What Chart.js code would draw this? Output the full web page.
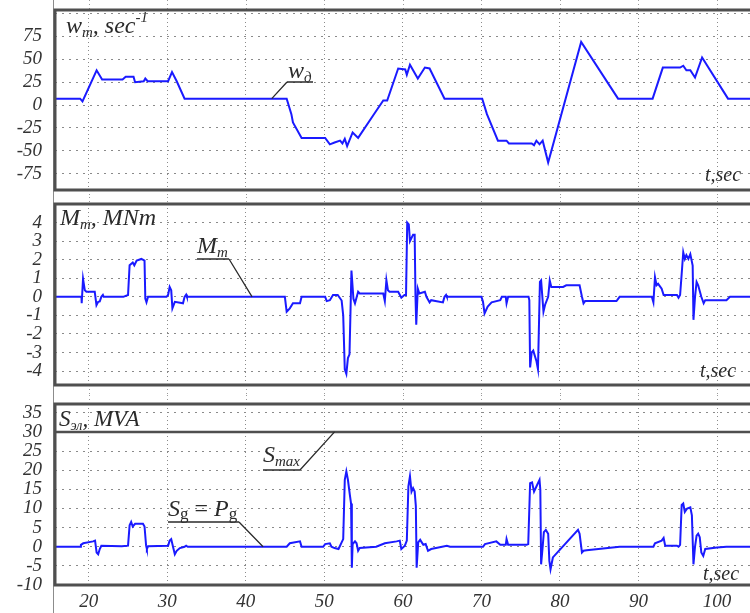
<!DOCTYPE html>
<html>
<head>
<meta charset="utf-8">
<script src="https://cdn.jsdelivr.net/npm/chart.js@4.4.0/dist/chart.umd.min.js"></script>
<style>
  html, body { margin: 0; padding: 0; background: #fff; }
  #wrap { position: relative; width: 750px; height: 613px; overflow: hidden; }
  canvas { position: absolute; left: 0; }
</style>
</head>
<body>
<div id="wrap">
  <canvas id="c1" width="750" height="197" style="top:0"></canvas>
  <canvas id="c2" width="750" height="198" style="top:197px"></canvas>
  <canvas id="c3" width="750" height="218" style="top:395px"></canvas>
</div>
<script>
// time axis (sec)
const tMin = 15.7;
const tMax = 104.2;
const tTicks = [20, 30, 40, 50, 60, 70, 80, 90, 100];

// speed w_m, sec^-1
const wTime = [15.7, 18.9, 19.2, 21.0, 21.7, 24.3, 24.7, 25.7, 25.9, 27.0, 27.2, 27.5, 30.1, 30.6, 31.2, 32.2,
  45.2, 45.8, 46.0, 47.1, 50.1, 50.7, 51.3, 52.0, 52.3, 52.6, 52.9, 53.6, 54.3, 56.4, 57.5, 58.0, 59.4, 60.3,
  60.5, 60.9, 61.9, 62.8, 63.4, 65.3, 70.1, 70.7, 72.1, 73.2, 73.5, 76.4, 76.7, 77.0, 77.4, 77.8, 78.5, 82.7,
  87.4, 91.8, 93.1, 95.3, 95.7, 96.1, 96.6, 97.2, 98.1, 101.4, 104.2];
const wValue = [7, 7, 4, 38, 28, 28, 31, 31, 25, 26, 29, 26, 26, 36, 26, 7,
  7, -10, -19, -36, -36, -43, -41, -39, -42, -37, -45, -30, -36, -9, 5, 5, 40, 39,
  33, 44, 29, 41, 40, 7, 7, -10, -39, -39, -42, -42, -44, -39, -43, -39, -63, 69,
  7, 7, 41, 41, 43, 38, 38, 30, 52, 7, 7];

// torque M_m, MNm
const mTime = [15.7, 19.07, 19.1, 19.27, 19.5, 19.7, 20.76, 20.98, 21.2, 21.4, 21.6, 21.8, 21.9, 24.4, 25.0, 25.2,
  25.6, 25.8, 26.1, 26.7, 27.1, 27.2, 27.35, 27.55, 29.9, 30.1, 30.3, 30.5, 30.65, 30.96, 32.0, 32.2, 32.4, 32.5,
  44.97, 45.2, 45.6, 46.0, 46.9, 47.1, 50.1, 50.3, 50.7, 51.1, 51.7, 52.2, 52.4, 52.6, 52.8, 53.0, 53.2, 53.45,
  53.7, 53.9, 54.3, 54.5, 57.5, 57.7, 57.9, 58.1, 58.3, 59.4, 59.8, 60.2, 60.4, 60.55, 60.75, 60.9, 61.3, 61.5,
  61.6, 61.7, 61.9, 62.1, 62.8, 63.0, 63.4, 63.6, 65.1, 65.3, 65.5, 65.6, 70.0, 70.2, 70.4, 70.8, 71.3, 72.4,
  72.6, 73.1, 73.2, 73.4, 76.0, 76.1, 76.2, 76.4, 76.6, 77.0, 77.2, 77.45, 77.6, 77.9, 78.1, 78.5, 78.7, 78.9,
  80.4, 80.8, 82.5, 82.8, 83.0, 83.2, 87.2, 87.6, 91.7, 91.9, 92.1, 92.3, 92.5, 92.95, 93.2, 94.9, 95.1, 95.3,
  95.5, 95.7, 95.9, 96.1, 96.35, 96.6, 96.9, 97.0, 97.2, 97.4, 97.6, 98.0, 98.3, 98.5, 101.2, 101.65, 104.2];
const mValue = [0, 0, -0.35, 0.97, 0.35, 0.27, 0.27, -0.45, -0.27, -0.25, 0, 0.1, 0, 0, 0.1, 1.7,
  1.85, 1.7, 1.95, 2.04, 1.95, -0.1, -0.3, 0, 0, 0.1, 0.53, 0.35, -0.62, -0.27, -0.35, 0, 0.12, 0,
  0, -0.8, -0.62, -0.35, -0.35, 0, 0, -0.23, -0.18, 0.1, 0.1, -0.2, -1.0, -3.9, -4.15, -3.3, -3.1, 1.42,
  -0.1, -0.35, 0.27, 0.18, 0.18, -0.23, 0.9, 0.35, 0.27, 0.27, -0.05, 0.1, 0.1, 4.0, 3.9, 3.0, 3.35, 3.35,
  0.1, -1.5, 0.44, 0.18, 0.27, 0, -0.3, -0.18, -0.3, 0, 0.1, 0, 0, -0.27, -0.9, -0.53, -0.3, -0.18,
  0, 0, -0.35, 0, 0, -0.18, -3.8, -3.0, -2.9, -3.45, -3.9, 0.8, 0.88, -0.8, -0.44, 0, 0.88, 0.53,
  0.53, 0.62, 0.62, 0, -0.35, -0.23, -0.23, 0, 0, -0.3, 1.06, 0.62, 0.7, 0.44, 0.1, 0.1, -0.05, 0.1,
  1.24, 2.4, 2.04, 2.25, 2.04, 2.3, 1.68, -1.24, 0, 0.8, 0.62, 0, -0.35, -0.18, -0.18, 0, 0];

// power S_g = P_g, MVA
const sTime = [15.7, 18.9, 19.0, 19.3, 20.55, 20.8, 21.0, 21.2, 21.4, 21.6, 24.2, 25.0, 25.2, 25.4, 25.6, 25.9,
  26.9, 27.1, 27.3, 27.4, 27.55, 30.1, 30.3, 30.5, 30.75, 30.96, 31.2, 31.6, 32.2, 32.4, 32.6, 45.2, 45.6, 46.9,
  47.1, 49.85, 50.1, 50.7, 50.9, 51.3, 51.8, 52.0, 52.2, 52.4, 52.6, 52.8, 53.0, 53.25, 53.4, 53.5, 53.6, 53.9,
  54.1, 54.3, 54.5, 56.6, 57.7, 59.2, 59.6, 59.8, 60.25, 60.5, 60.7, 60.9, 61.1, 61.3, 61.5, 61.65, 61.75, 61.95,
  62.2, 62.6, 62.9, 63.2, 63.6, 65.6, 66.0, 70.2, 70.45, 71.9, 72.4, 73.1, 73.2, 73.4, 75.75, 75.96, 76.2, 76.45,
  76.7, 77.0, 77.4, 77.5, 77.6, 77.8, 77.95, 78.2, 78.5, 78.65, 78.8, 79.1, 82.3, 82.5, 82.8, 83.0, 83.4, 87.6,
  91.9, 92.1, 92.95, 93.2, 93.4, 94.9, 95.1, 95.3, 95.5, 95.7, 95.9, 96.2, 96.6, 96.8, 97.0, 97.2, 97.4, 97.6,
  97.8, 98.0, 98.25, 98.5, 100.0, 101.2, 104.2];
const sValue = [0, 0, 0.5, 0.9, 1.4, 1.6, -1.5, -1.95, -0.6, 0.27, 0.1, 0.27, 5.6, 6.5, 5.3, 6.0,
  6.0, 5.3, 0.27, -0.6, 0.1, 0.27, 1.6, 2.0, -0.2, -1.95, -1.06, -0.35, 0, 0.27, 0, 0, 0.9, 1.4,
  0, 0, 0.7, 0.9, 0, -0.35, -0.6, 0.27, 1.15, 2.0, 17.5, 19.7, 17.5, 13.5, 11.3, -5.5, 0.7, 1.4,
  0.9, -1.06, -0.35, 0, 0.9, 1.4, 1.6, -0.6, 0.27, 1.6, 15.75, 18.4, 14.4, 15.3, 14.4, 10.6, -5.5, 1.15,
  1.8, 0.5, 0.7, -1.06, -0.6, 0.27, 0, 0, 0.7, 1.4, 0.5, 0.5, 2.0, 0.5, 0.5, 0.7, 16.6, 16.8,
  14.4, 15.75, 17.5, 14.9, -4.6, 0, 3.8, 4.4, 3.4, -3.7, -5.9, -2.8, 4.4, 3.4, -1.5, -1.06, -0.9, 0,
  0, 0.9, 1.6, 2.3, 0.27, 0.27, 0, 0.5, 10.9, 11.3, 9.1, 10.0, 10.3, 8.2, -4.6, 0, 2.9, 3.4,
  2.5, -1.5, -2.4, -0.6, -0.2, 0, 0];

// apparent power limit S_max, MVA
const sMax = 30;

const font = '"Liberation Serif", "Times New Roman", serif';
const blue = '#1a1aff';
const frameColor = '#4f4f4f';

function pairs(ts, vs) {
  return ts.map((t, i) => ({ x: t, y: vs[i] }));
}

// draw text made of pieces (subscripts, superscripts)
function drawRich(ctx, x, y, parts) {
  parts.forEach(p => {
    ctx.font = (p.upright ? '' : 'italic ') + p.size + 'px ' + font;
    ctx.fillText(p.text, x, y + (p.dy || 0));
    x += ctx.measureText(p.text).width;
  });
}

// thick frame, thin left rule, grid continued through the gaps
const framePlugin = {
  id: 'frame',
  afterDraw(chart, args, opts) {
    const { ctx, chartArea: a } = chart;
    const x = chart.scales.x;
    ctx.save();
    ctx.strokeStyle = '#9a9a9a';
    ctx.lineWidth = 1;
    ctx.setLineDash([1, 3]);
    x.ticks.forEach(tk => {
      const px = Math.round(x.getPixelForValue(tk.value)) + 0.5;
      ctx.beginPath();
      ctx.moveTo(px, 0); ctx.lineTo(px, a.top);
      if (opts.below) { ctx.moveTo(px, a.bottom); ctx.lineTo(px, chart.height); }
      ctx.stroke();
    });
    ctx.setLineDash([]);
    ctx.strokeStyle = '#8c8c8c';
    ctx.beginPath();
    ctx.moveTo(a.left - 1.5, 0); ctx.lineTo(a.left - 1.5, chart.height);
    ctx.stroke();
    ctx.strokeStyle = frameColor;
    ctx.lineWidth = 3;
    ctx.beginPath();
    ctx.moveTo(a.left, a.top); ctx.lineTo(chart.width, a.top);
    ctx.moveTo(a.left, a.bottom); ctx.lineTo(chart.width, a.bottom);
    ctx.moveTo(a.left, a.top - 1.5); ctx.lineTo(a.left, a.bottom + 1.5);
    ctx.stroke();
    ctx.restore();
  }
};

// titles and labelled leaders
const notesPlugin = {
  id: 'notes',
  afterDraw(chart, args, opts) {
    const ctx = chart.ctx;
    const { x, y } = chart.scales;
    ctx.save();
    ctx.fillStyle = '#2b2b2b';
    ctx.textBaseline = 'alphabetic';
    (opts.texts || []).forEach(t => drawRich(ctx, t.x, t.y, t.parts));
    ctx.strokeStyle = '#2b2b2b';
    ctx.lineWidth = 1.3;
    (opts.leaders || []).forEach(l => {
      const ex = x.getPixelForValue(l.to[0]);
      const ey = y.getPixelForValue(l.to[1]);
      ctx.beginPath();
      ctx.moveTo(l.x1, l.y); ctx.lineTo(l.x2, l.y);
      ctx.moveTo(l.from === 'left' ? l.x1 : l.x2, l.y); ctx.lineTo(ex, ey);
      ctx.stroke();
    });
    ctx.restore();
  }
};

function makeChart(id, cfg) {
  const datasets = [{
    data: pairs(cfg.t, cfg.v),
    borderColor: blue,
    borderWidth: 2,
    pointRadius: 0,
    tension: 0,
    order: 1
  }].concat(cfg.extra || []);
  return new Chart(document.getElementById(id), {
    type: 'line',
    data: { datasets },
    options: {
      responsive: false,
      animation: false,
      events: [],
      layout: { padding: cfg.padding },
      plugins: {
        legend: { display: false },
        tooltip: { enabled: false },
        frame: { below: cfg.below },
        notes: cfg.notes
      },
      scales: {
        x: {
          type: 'linear',
          min: tMin,
          max: tMax,
          afterBuildTicks: s => { s.ticks = tTicks.map(v => ({ value: v })); },
          afterFit: s => { s.height = cfg.xHeight; s.paddingLeft = 0; s.paddingRight = 0; },
          grid: { color: '#8a8a8a', lineWidth: 1, drawTicks: false },
          border: { display: false, dash: [1, 3] },
          ticks: {
            display: cfg.xLabels,
            autoSkip: false,
            padding: 6,
            maxRotation: 0,
            color: '#333',
            font: { family: font, size: 19, style: 'italic' }
          }
        },
        y: {
          min: cfg.yMin,
          max: cfg.yMax,
          afterBuildTicks: s => { s.ticks = cfg.yTicks.map(v => ({ value: v })); },
          afterFit: s => { s.width = 55; s.paddingTop = 0; s.paddingBottom = 0; },
          grid: { color: cfg.yGridColor || '#8a8a8a', lineWidth: 1, drawTicks: false },
          border: { display: false, dash: [2, 5] },
          ticks: {
            autoSkip: false,
            padding: 13,
            color: '#333',
            font: { family: font, size: 19, style: 'italic' },
            callback: v => (cfg.yShown.includes(v) ? String(v) : '')
          }
        }
      }
    },
    plugins: [framePlugin, notesPlugin]
  });
}

const big = 24, small = 15;

makeChart('c1', {
  t: wTime, v: wValue,
  yMin: -93, yMax: 104,
  yTicks: [-75, -50, -25, 0, 25, 50, 75, 100],
  yShown: [-75, -50, -25, 0, 25, 50, 75],
  padding: { top: 10, bottom: 7, left: 0, right: 0 },
  xHeight: 0, xLabels: false, below: true,
  notes: {
    texts: [
      { x: 66, y: 33, parts: [{ text: 'w', size: big }, { text: 'm', size: small, dy: 4 },
        { text: ', sec', size: big }, { text: '-1', size: small, dy: -11 }] },
      { x: 288, y: 78, parts: [{ text: 'w', size: big }, { text: 'д', size: small, dy: 4 }] },
      { x: 705, y: 181, parts: [{ text: 't,sec', size: 20 }] }
    ],
    leaders: [{ x1: 287, x2: 313, y: 82, from: 'left', to: [43.3, 7] }]
  }
});

makeChart('c2', {
  t: mTime, v: mValue,
  yMin: -4.75, yMax: 5,
  yTicks: [-4, -3, -2, -1, 0, 1, 2, 3, 4, 5],
  yShown: [-4, -3, -2, -1, 0, 1, 2, 3, 4],
  padding: { top: 7, bottom: 10, left: 0, right: 0 },
  xHeight: 0, xLabels: false, below: true,
  notes: {
    texts: [
      { x: 60, y: 28, parts: [{ text: 'M', size: big }, { text: 'm', size: small, dy: 4 },
        { text: ', MNm', size: big }] },
      { x: 197, y: 56, parts: [{ text: 'M', size: big }, { text: 'm', size: small, dy: 4 }] },
      { x: 700, y: 180, parts: [{ text: 't,sec', size: 20 }] }
    ],
    leaders: [{ x1: 197, x2: 229, y: 62, from: 'right', to: [40.8, 0] }]
  }
});

makeChart('c3', {
  t: sTime, v: sValue,
  yMin: -10, yMax: 37.3,
  yTicks: [-10, -5, 0, 5, 10, 15, 20, 25, 30, 35],
  yShown: [-10, -5, 0, 5, 10, 15, 20, 25, 30, 35],
  padding: { top: 9, bottom: 0, left: 0, right: 0 },
  xHeight: 28, xLabels: true, below: false,
  extra: [{
    data: [{ x: tMin, y: sMax }, { x: tMax, y: sMax }],
    borderColor: frameColor,
    borderWidth: 2.5,
    pointRadius: 0,
    order: 2
  }],
  notes: {
    texts: [
      { x: 59, y: 31, parts: [{ text: 'S', size: 23 }, { text: 'эл', size: 14, dy: 4 },
        { text: ', MVA', size: 23 }] },
      { x: 263, y: 67, parts: [{ text: 'S', size: big }, { text: 'max', size: small, dy: 4 }] },
      { x: 168, y: 121, parts: [{ text: 'S', size: big }, { text: 'g', size: 17, dy: 3, upright: true },
        { text: ' = ', size: big, upright: true }, { text: 'P', size: big },
        { text: 'g', size: 17, dy: 3, upright: true }] },
      { x: 703, y: 185, parts: [{ text: 't,sec', size: 20 }] }
    ],
    leaders: [
      { x1: 263, x2: 300, y: 75, from: 'right', to: [51.3, sMax] },
      { x1: 168, x2: 239, y: 127, from: 'right', to: [42.2, 0] }
    ]
  }
});
</script>
</body>
</html>
